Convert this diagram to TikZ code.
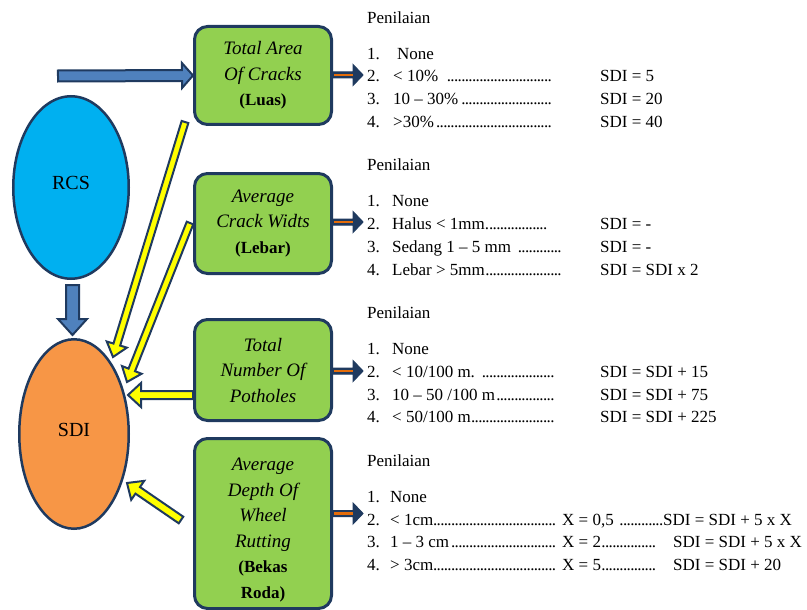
\documentclass[tikz,border=0pt]{standalone}
\usepackage{fontspec}
\setmainfont{Liberation Serif}
\usetikzlibrary{calc,shapes.geometric}
\definecolor{navy}{HTML}{1F3A5F}
\definecolor{boxgreen}{HTML}{92D050}
\definecolor{rcsblue}{HTML}{00B0F0}
\definecolor{sdiorange}{HTML}{F79646}
\definecolor{arrblue}{HTML}{4F81BD}
\definecolor{arryellow}{HTML}{FFFF00}
\definecolor{arrorange}{HTML}{E46C0A}
% block arrow: #1 style, #2 start, #3 tip, #4 shaft half width, #5 head half width, #6 head length
\newcommand\blockarr[6]{%
  \coordinate (ba-h) at ($#3!#6!#2$);
  \draw[#1] ($#2!#4!90:#3$) -- ($(ba-h)!#4!90:#3$) -- ($(ba-h)!#5!90:#3$) -- #3
    -- ($(ba-h)!#5!-90:#3$) -- ($(ba-h)!#4!-90:#3$) -- ($#2!#4!-90:#3$) -- cycle;}
\newcommand\dts{\leaders\hbox to 3.6pt{\hss.\hss}\hfill}
\newcommand\lrow[6]{\makebox[#1pt][l]{#2}\makebox[#3pt][l]{#4\dts}\makebox[#5pt][l]{}#6}
\newcommand\bld[1]{{\fontsize{17}{25.5}\selectfont\bfseries #1}}
\begin{document}
\begin{tikzpicture}[x=1pt,y=-1pt,
  box/.style={rectangle, rounded corners=13pt, draw=navy, line width=3pt, fill=boxgreen,
    minimum width=137pt, align=center, inner sep=0pt, font=\fontsize{19}{25.5}\selectfont},
  boxtext/.style={align=center, inner sep=0pt, font=\fontsize{19}{25.5}\selectfont},
  ell/.style={ellipse, draw=navy, line width=2.5pt, inner sep=0pt, font=\fontsize{20}{24}\selectfont},
  lst/.style={anchor=base west, inner sep=0pt, font=\fontsize{17}{20}\selectfont},
  bluearr/.style={draw=navy, fill=arrblue, line width=2pt, line join=miter},
  yelarr/.style={draw=navy, fill=arryellow, line width=2pt, line join=miter},
  navyarr/.style={draw=navy, fill=navy, line width=1pt, line join=miter},
  orshaft/.style={draw=arrorange, line width=2.2pt},
]
\useasboundingbox (0,0) rectangle (807,610);

% ellipses
\node[ell, fill=rcsblue, minimum width=115.5pt, minimum height=182.5pt] (rcs) at (71,187.5) {\raisebox{9pt}{RCS}};
\node[ell, fill=sdiorange, minimum width=109.5pt, minimum height=189.5pt] (sdi) at (74,434) {\raisebox{8pt}{SDI}};

% boxes
\node[box, minimum height=98pt] (b1) at (263,75.5)
  {{\itshape Total Area}\\{\itshape Of Cracks}\\\bld{(Luas)}};
\node[box, minimum height=100pt] (b2) at (263,223.5)
  {{\itshape Average}\\{\itshape Crack Widts}\\\bld{(Lebar)}};
\node[box, minimum height=101pt] (b3) at (263,370)
  {{\itshape Total}\\{\itshape Number Of}\\{\itshape Potholes}};
\node[box, minimum height=170pt] (b4) at (263,523.5) {};
\node[boxtext] (b4t) at (263,530)
  {{\itshape Average}\\{\itshape Depth Of}\\{\itshape Wheel}\\{\itshape Rutting}\\\bld{(Bekas}\\\bld{Roda)}};

% connector end points
\coordinate (bs) at (58,76);
\coordinate (ds) at (72.5,285);
\coordinate (de) at (72.5,335);
\coordinate (y1s) at (185,122);
\coordinate (y1e) at (113,357);
\coordinate (y2s) at (190,223);
\coordinate (y2e) at (127,382);
\coordinate (y3s) at (193,395);
\coordinate (y3e) at (128,395);
\coordinate (y4s) at (181,520);
\coordinate (y4e) at (127,483);
\coordinate (o1s) at ($(b1.east)+(0,-0.5)$);
\coordinate (o1e) at ($(o1s)+(30,0)$);
\coordinate (o2s) at ($(b2.east)+(0,-1.5)$);
\coordinate (o2e) at ($(o2s)+(30,0)$);
\coordinate (o3s) at ($(b3.east)+(0,1)$);
\coordinate (o3e) at ($(o3s)+(30,0)$);
\coordinate (o4s) at ($(b4.east)+(0,-10)$);
\coordinate (o4e) at ($(o4s)+(30,0)$);

% blue arrows
\blockarr{bluearr}{(bs)}{(b1.west)}{5.5pt}{12.5pt}{11pt}
\blockarr{bluearr}{(ds)}{(de)}{6.5pt}{14.5pt}{16pt}

% yellow arrows
\blockarr{yelarr}{(y1s)}{(y1e)}{3.5pt}{10.5pt}{13pt}
\blockarr{yelarr}{(y2s)}{(y2e)}{3.5pt}{10.5pt}{13pt}
\blockarr{yelarr}{(y3s)}{(y3e)}{4pt}{12pt}{13pt}
\blockarr{yelarr}{(y4s)}{(y4e)}{4pt}{11.5pt}{13pt}

% orange arrows
\foreach \i in {1,2,3,4}{
  \blockarr{navyarr}{(o\i s)}{(o\i e)}{3pt}{10.5pt}{10pt}
  \draw[orshaft] ($(o\i s)+(1,0)$) -- ($(o\i e)+(-10.5,0)$);
}

% block 1
\node[lst] (p1) at (367,24) {Penilaian};
\node[lst] (r11) at (367,60) {\makebox[30pt][l]{1.}None};
\node[lst] (r12) at (367,82) {\lrow{26}{2.}{160}{< 10\%\ \ }{47}{SDI = 5}};
\node[lst] (r13) at (367,105) {\lrow{26}{3.}{160}{10 – 30\%}{47}{SDI = 20}};
\node[lst] (r14) at (367,128) {\lrow{26}{4.}{160}{>30\%}{47}{SDI = 40}};

% block 2
\node[lst] (p2) at (367,170) {Penilaian};
\node[lst] (r21) at (367,206) {\makebox[25pt][l]{1.}None};
\node[lst] (r22) at (367,229) {\lrow{25}{2.}{158}{Halus < 1mm.}{50}{SDI = -}};
\node[lst] (r23) at (367,252) {\lrow{25}{3.}{171}{Sedang 1 – 5 mm }{37}{SDI = -}};
\node[lst] (r24) at (367,275) {\lrow{25}{4.}{171}{Lebar > 5mm}{37}{SDI = SDI x 2}};

% block 3
\node[lst] (p3) at (367,318) {Penilaian};
\node[lst] (r31) at (367,354) {\makebox[25pt][l]{1.}None};
\node[lst] (r32) at (367,377) {\lrow{25}{2.}{164}{< 10/100 m. }{44}{SDI = SDI + 15}};
\node[lst] (r33) at (367,400) {\lrow{25}{3.}{164}{10 – 50 /100 m}{44}{SDI = SDI + 75}};
\node[lst] (r34) at (367,422) {\lrow{25}{4.}{164}{< 50/100 m}{44}{SDI = SDI + 225}};

% block 4
\node[lst] (p4) at (367,466) {Penilaian};
\node[lst] (r41) at (367,502) {\makebox[23pt][l]{1.}None};
\node[lst] (r42) at (367,525) {\lrow{23}{2.}{168}{< 1cm}{4}{\makebox[101pt][l]{X = 0,5 \dts}SDI = SDI + 5 x X}};
\node[lst] (r43) at (367,547) {\lrow{23}{3.}{168}{1 – 3 cm}{4}{\makebox[94pt][l]{X = 2\dts}\makebox[17pt][l]{}SDI = SDI + 5 x X}};
\node[lst] (r44) at (367,570) {\lrow{23}{4.}{168}{> 3cm}{4}{\makebox[94pt][l]{X = 5\dts}\makebox[17pt][l]{}SDI = SDI + 20}};
\end{tikzpicture}
\end{document}
